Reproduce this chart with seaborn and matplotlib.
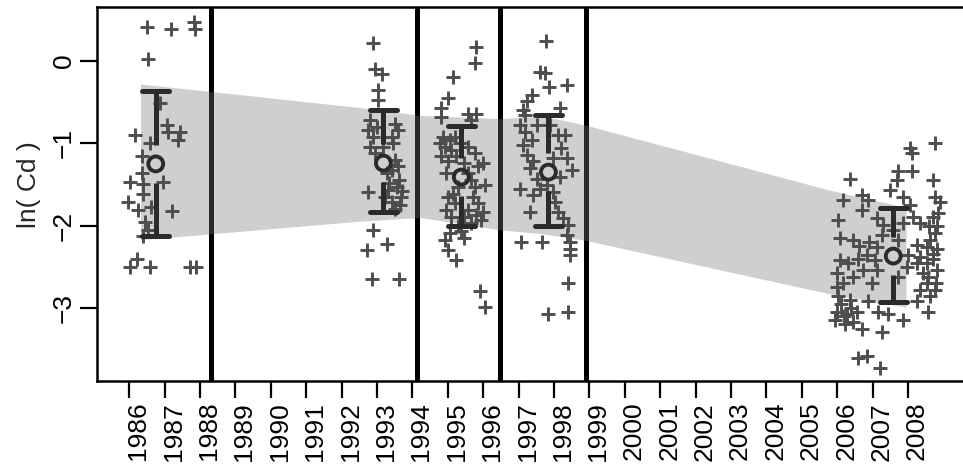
import matplotlib
matplotlib.use("Agg")
import matplotlib.pyplot as plt
import matplotlib.transforms as mtransforms
import numpy as np
import pandas as pd
import seaborn as sns

sns.set_style("ticks")
plt.rcParams["font.family"] = ["Liberation Sans", "DejaVu Sans"]

# ─── Data ─────────────────────────────────────────────────────────
years = list(range(1986, 2009))

# 1986-1988 sampling period
p1_year = [1986.49, 1987.17, 1987.83, 1987.86, 1986.54, 1986.87, 1987.06, 1987.10, 1987.43, 1987.38,
           1986.16, 1986.58, 1986.35, 1986.02, 1986.35, 1986.40, 1986.96, 1986.40, 1985.97, 1986.25,
           1986.63, 1987.20, 1986.44, 1986.54, 1986.40, 1986.21, 1986.02, 1986.58, 1987.71, 1987.90]
p1_cd = [0.41, 0.385, 0.48, 0.385, 0.03, -0.51, -0.78, -0.86, -0.86, -0.96,
         -0.90, -1.00, -1.16, -1.47, -1.36, -1.49, -1.47, -1.61, -1.71, -1.81,
         -1.77, -1.82, -1.95, -2.05, -2.13, -2.40, -2.50, -2.50, -2.50, -2.50]

# 1992-1994
p2_year = [1992.90, 1992.94, 1993.13, 1993.03, 1993.03, 1992.80, 1992.75, 1992.89, 1993.51, 1993.60,
           1993.41, 1992.80, 1992.94, 1993.51, 1993.41, 1993.60, 1992.75, 1993.32, 1993.55, 1993.69,
           1993.41, 1993.65, 1993.22, 1993.18, 1993.27, 1992.90, 1993.27, 1992.73, 1992.85, 1993.63,
           1993.00, 1993.45, 1993.35, 1993.62, 1993.50, 1993.70]
p2_cd = [0.22, -0.10, -0.16, -0.35, -0.47, -0.72, -0.84, -0.92, -0.76, -0.84,
         -0.92, -1.04, -1.12, -1.20, -1.32, -1.28, -1.59, -1.57, -1.53, -1.65,
         -1.71, -1.75, -1.65, -1.04, -1.36, -2.05, -2.22, -2.30, -2.65, -2.65,
         -0.80, -1.00, -1.48, -1.45, -1.80, -1.58]

# 1994-1996
p3_year = [1995.80, 1995.76, 1995.14, 1995.00, 1994.81, 1994.81, 1995.57, 1995.80, 1995.66, 1994.86,
           1995.05, 1995.19, 1994.91, 1995.10, 1994.81, 1995.00, 1995.24, 1995.57, 1995.76, 1995.99,
           1995.85, 1995.57, 1995.29, 1996.04, 1995.76, 1995.00, 1995.19, 1994.95, 1995.10, 1995.71,
           1995.85, 1995.57, 1995.80, 1995.66, 1995.94, 1995.29, 1995.05, 1995.38, 1994.91, 1995.47,
           1995.00, 1995.24, 1995.90, 1996.04, 1994.77, 1995.33, 1995.47, 1994.95, 1995.66, 1995.14,
           1995.99, 1995.47]
p3_cd = [0.17, -0.03, -0.20, -0.45, -0.57, -0.68, -0.64, -0.64, -0.72, -0.92,
         -0.96, -0.92, -1.04, -1.08, -1.16, -1.22, -1.16, -1.04, -1.12, -1.24,
         -1.28, -1.36, -1.53, -1.51, -1.53, -1.65, -1.73, -1.81, -1.89, -1.65,
         -1.73, -1.81, -1.87, -1.97, -1.93, -2.01, -2.09, -2.07, -2.17, -2.15,
         -2.30, -2.42, -2.80, -2.99, -1.00, -1.00, -1.24, -1.36, -1.45, -1.61,
         -1.83, -1.89]

# 1996-1999
p4_year = [1997.77, 1997.60, 1997.74, 1997.86, 1998.36, 1997.37, 1997.23, 1997.13, 1997.18, 1998.17,
           1997.18, 1997.37, 1997.13, 1998.12, 1998.31, 1998.21, 1997.23, 1997.41, 1997.32, 1998.50,
           1998.17, 1997.51, 1997.04, 1997.60, 1997.41, 1997.32, 1998.03, 1998.12, 1998.26, 1998.40,
           1998.36, 1998.45, 1998.45, 1998.45, 1997.08, 1997.65, 1998.40, 1997.84, 1998.40, 1997.04,
           1997.51, 1997.88, 1997.98, 1998.36, 1997.79, 1997.98]
p4_cd = [0.24, -0.13, -0.15, -0.31, -0.29, -0.41, -0.49, -0.60, -0.66, -0.57,
         -0.86, -0.96, -1.02, -0.90, -0.90, -1.06, -1.14, -1.22, -1.30, -1.32,
         -1.41, -1.43, -1.55, -1.55, -1.63, -1.83, -1.71, -1.83, -1.91, -1.99,
         -2.11, -2.20, -2.28, -2.36, -2.20, -2.20, -2.70, -3.07, -3.05, -0.78,
         -0.78, -0.78, -1.18, -1.18, -1.51, -1.59]

# 2006-2008
p5_year = [2008.76, 2008.05, 2008.10, 2006.36, 2008.10, 2007.72, 2007.68, 2008.71, 2007.49, 2007.86,
           2006.69, 2006.88, 2006.17, 2008.76, 2008.90, 2008.05, 2006.69, 2006.03, 2007.11, 2007.30,
           2008.15, 2008.34, 2008.71, 2008.81, 2008.76, 2006.08, 2006.45, 2007.25, 2007.72, 2008.24,
           2008.52, 2008.81, 2006.08, 2006.31, 2006.59, 2006.83, 2007.07, 2007.11, 2008.01, 2008.34,
           2008.24, 2008.52, 2008.71, 2008.81, 2008.43, 2005.98, 2006.17, 2006.97, 2007.72, 2008.52,
           2008.76, 2008.62, 2006.03, 2006.36, 2006.88, 2008.24, 2008.57, 2005.98, 2006.27, 2006.55,
           2005.94, 2006.22, 2006.45, 2006.69, 2007.16, 2007.44, 2007.86, 2007.25, 2006.59, 2006.83,
           2007.21, 2007.58, 2007.86, 2007.11, 2006.73, 2006.45, 2007.96, 2008.34, 2008.62, 2008.85,
           2006.10, 2006.20, 2006.40, 2006.00, 2008.60, 2008.70, 2008.55, 2008.80, 2006.90, 2006.60]
p5_cd = [-1.00, -1.06, -1.12, -1.43, -1.34, -1.34, -1.45, -1.45, -1.57, -1.65,
         -1.63, -1.69, -1.69, -1.65, -1.71, -1.75, -1.81, -1.93, -1.91, -1.99,
         -1.89, -1.97, -1.89, -2.01, -2.09, -2.15, -2.18, -2.11, -2.18, -2.24,
         -2.26, -2.28, -2.42, -2.46, -2.40, -2.36, -2.42, -2.54, -2.36, -2.38,
         -2.46, -2.46, -2.34, -2.54, -2.58, -2.58, -2.70, -2.70, -2.62, -2.70,
         -2.78, -2.86, -2.86, -2.90, -2.92, -2.92, -3.05, -3.05, -3.07, -3.05,
         -3.15, -3.19, -3.17, -3.25, -3.05, -3.07, -3.15, -3.29, -3.61, -3.59,
         -3.73, -2.05, -1.97, -2.26, -2.54, -2.62, -2.50, -2.78, -2.18, -1.85,
         -2.95, -3.10, -3.00, -2.75, -2.00, -2.40, -2.62, -2.70, -2.20, -2.25]

# period means with interval ends
mean_year = [1986.75, 1993.18, 1995.38, 1997.84, 2007.58]
mean_cd = [-1.25, -1.24, -1.41, -1.35, -2.37]
upper_cd = [-0.37, -0.60, -0.79, -0.66, -1.79]
lower_cd = [-2.13, -1.84, -2.01, -2.01, -2.93]

# period boundaries
break_year = [1988.31, 1994.12, 1996.46, 1998.90]

# trend band
band_year = [1986.32, 1988.30, 1992.40, 1994.20, 1996.45, 1997.70, 1998.90, 2005.80, 2007.94]
band_hi = [-0.28, -0.37, -0.56, -0.66, -0.70, -0.67, -0.78, -1.57, -1.78]
band_lo = [-2.17, -2.10, -1.95, -1.90, -2.05, -2.10, -2.18, -2.83, -2.99]

df = pd.concat([
    pd.DataFrame({"year": p1_year, "lncd": p1_cd}),
    pd.DataFrame({"year": p2_year, "lncd": p2_cd}),
    pd.DataFrame({"year": p3_year, "lncd": p3_cd}),
    pd.DataFrame({"year": p4_year, "lncd": p4_cd}),
    pd.DataFrame({"year": p5_year, "lncd": p5_cd}),
], ignore_index=True)

# ─── Plot ─────────────────────────────────────────────────────────
fig = plt.figure(figsize=(9.63, 4.65), dpi=100)
ax = fig.add_axes([0.1007, 0.1806, 0.9118, 0.8043])
ylim = (-3.888, 0.656)

ax.vlines(break_year, ylim[0], ylim[1], color="black", lw=3.6, zorder=1)
ax.fill_between(band_year, band_lo, band_hi, color="#777777", alpha=0.35,
                lw=0, zorder=2)
sns.scatterplot(data=df, x="year", y="lncd", marker="+", s=90,
                color="#4d4d4d", linewidth=2.1, ax=ax, zorder=3, legend=False)

gap = 0.23
ebar = "#2b2b2b"
for x, m, hi, lo in zip(mean_year, mean_cd, upper_cd, lower_cd):
    ax.plot([x, x], [m + gap, hi], color=ebar, lw=3.6, zorder=4, solid_capstyle="butt")
    ax.plot([x, x], [m - gap, lo], color=ebar, lw=3.6, zorder=4, solid_capstyle="butt")
    for yv in (hi, lo):
        ax.plot([x - 0.38, x + 0.38], [yv, yv], color=ebar, lw=3.6, zorder=4,
                solid_capstyle="round")
ax.scatter(mean_year, mean_cd, s=115, facecolors="none", edgecolors=ebar,
           linewidths=2.8, zorder=5)

ax.set_xlim(1985.09, 2009.89)
ax.set_ylim(*ylim)
ax.set_xticks(years)
ax.set_xticklabels([str(y) for y in years], rotation=90)
ax.set_yticks([0, -1, -2, -3])
ax.set_yticklabels(["0", "\u22121", "\u22122", "\u22123"])
ax.tick_params(length=12.5, width=1.6, labelsize=19, pad=2.5, colors="black")
for sp in ax.spines.values():
    sp.set_linewidth(1.8)
    sp.set_color("black")

for lab in ax.get_yticklabels():
    lab.set_rotation(90)
    lab.set_rotation_mode("default")
    lab.set_ha("right")
    lab.set_va("center")

# year labels sit a little right of their ticks, as in the source
offset = mtransforms.ScaledTranslation(9 / 100, 0, fig.dpi_scale_trans)
for lab in ax.get_xticklabels():
    lab.set_rotation_mode("default")
    lab.set_transform(lab.get_transform() + offset)

ax.set_xlabel("")
ax.set_ylabel("ln( Cd )", fontsize=19)
ax.yaxis.set_label_coords(-0.064, 0.525)

fig.savefig("out.png", dpi=100)
